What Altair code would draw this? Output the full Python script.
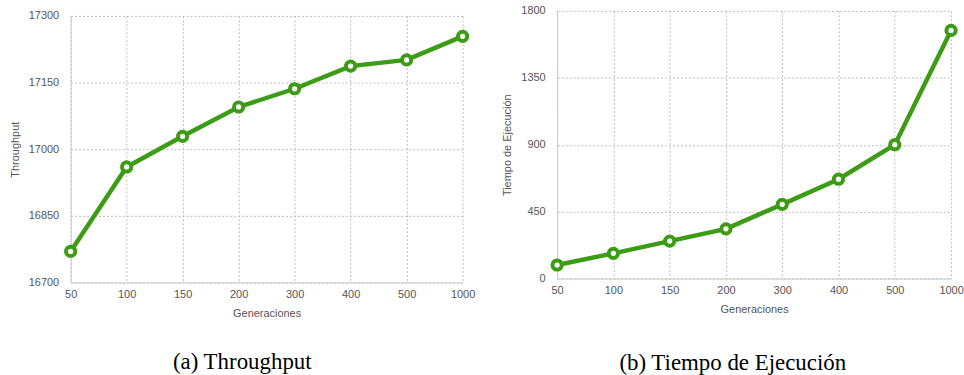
import altair as alt
import pandas as pd

generaciones = ["50", "100", "150", "200", "300", "400", "500", "1000"]
throughput = [16770, 16960, 17029, 17095, 17136, 17187, 17201, 17254]
tiempo = [91, 169, 252, 334, 499, 668, 900, 1669]

GREEN = "#3c9c16"
SANS = "Liberation Sans"


def panel(values, ytitle, domain, ticks, caption, w, h, cap_offset):
    df = pd.DataFrame({"gen": generaciones, "val": values})
    base = alt.Chart(df)
    x = alt.X(
        "gen:N", sort=None, title="Generaciones",
        scale=alt.Scale(type="point", padding=0),
        axis=alt.Axis(labelAngle=0, grid=True, gridDash=[2, 2], gridColor="#bbbbbb",
                      domainColor="#cccccc", ticks=False, labelPadding=6, titlePadding=8),
    )
    y = alt.Y(
        "val:Q", title=ytitle,
        scale=alt.Scale(domain=domain, nice=False, zero=False),
        axis=alt.Axis(values=ticks, format="d", grid=True, gridDash=[2, 2], gridColor="#bbbbbb",
                      domainColor="#cccccc", ticks=False, labelPadding=12, titlePadding=8),
    )
    line = base.mark_line(color=GREEN, strokeWidth=4.5).encode(x=x, y=y)
    pts = base.mark_point(shape="circle", filled=True, fill="white", stroke=GREEN,
                          strokeWidth=4, size=86, opacity=1).encode(x=x, y=y)
    return alt.layer(line, pts).properties(
        width=w, height=h,
        title=alt.TitleParams(caption, orient="bottom", anchor="middle", frame="bounds",
                              font="Liberation Serif", fontSize=23, fontWeight="normal",
                              color="black", offset=cap_offset),
    )


spacer = alt.Chart(pd.DataFrame({"gen": generaciones})).mark_rule(strokeOpacity=0).encode(
    x=alt.value(0), y=alt.value(0)
).properties(width=394, height=1)

left_panel = panel(throughput, "Throughput", [16700, 17300], [16700, 16850, 17000, 17150, 17300],
                   "(a)  Throughput", 394, 268, 33)
left = alt.vconcat(spacer, left_panel, spacing=-2)
right = panel(tiempo, "Tiempo de Ejecución", [0, 1800], [0, 450, 900, 1350, 1800],
              "(b)  Tiempo de Ejecución", 396, 269, 38)

chart = alt.hconcat(left, right, spacing=26).properties(
    padding={"left": 9, "top": 4, "right": 0, "bottom": 0},
    background="white",
).configure_view(stroke=None).configure_axis(
    labelFont=SANS, labelFontSize=11, labelColor="#555555",
    titleFont=SANS, titleFontSize=11, titleColor="#555555", titleFontWeight="normal",
)

chart.save("out.html", embed_options={"renderer": "svg", "actions": False})
